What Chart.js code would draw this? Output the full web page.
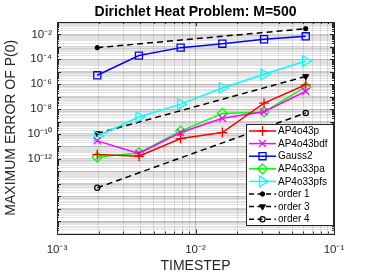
<!DOCTYPE html>
<html>
<head>
<meta charset="utf-8">
<script src="https://cdn.jsdelivr.net/npm/chart.js@4.4.0/dist/chart.umd.min.js"></script>
<style>
html,body{margin:0;padding:0;background:#fff;}
#wrap{width:371px;height:278px;}
</style>
</head>
<body>
<div id="wrap"><canvas id="c" width="371" height="278"></canvas></div>
<script>
// ---- data ----
const timesteps = [0.001953125, 0.00390625, 0.0078125, 0.015625, 0.03125, 0.0625];
const ap4o43p   = [2.2e-12, 1.6e-12, 4.3e-11, 1.3e-10, 3.0e-8, 9.0e-7];
const ap4o43bdf = [2.8e-11, 2.7e-12, 1.3e-10, 1.8e-9, 6.0e-9, 2.7e-7];
const gauss2    = [5.2e-6, 2.0e-4, 8.7e-4, 1.8e-3, 4.1e-3, 7.1e-3];
const ap4o33pa  = [1.4e-12, 3.0e-12, 1.7e-10, 4.5e-9, 5.9e-9, 6.0e-7];
const ap4o33pfs = [6.6e-11, 2.3e-9, 2.5e-8, 5.0e-7, 6.3e-6, 7.4e-5];
const refSteps  = [0.001953125, 0.0625];
const order1    = [8.7e-4, 2.9e-2];
const order3    = [1.1e-10, 4.2e-6];
const order4    = [4.7e-15, 4.9e-9];
const seriesNames = ['AP4o43p','AP4o43bdf','Gauss2','AP4o33pa','AP4o33pfs','order 1','order 3','order 4'];
const xTickExps = [-3, -2, -1];
const yTickExps = [-2, -4, -6, -8, -10, -12];
const titleText = 'Dirichlet Heat Problem: M=500';
const xTitle = 'TIMESTEP';
const yTitle = 'MAXIMUM ERROR OF P(0)';

const FONT = "'Liberation Sans', Arial, Helvetica, sans-serif";
const AXC = '#262626';

function pts(xs, ys){ return xs.map((x,i)=>({x:x, y:ys[i]})); }
const SUP = {'-':'\u207B','0':'\u2070','1':'\u00B9','2':'\u00B2','3':'\u00B3','4':'\u2074','5':'\u2075','6':'\u2076','7':'\u2077','8':'\u2078','9':'\u2079'};
function sup(n){ return String(n).split('').map(c=>SUP[c]).join(''); }
function isDecade(v){ const l=Math.log10(v); return Math.abs(l-Math.round(l))<1e-9; }
function logTicks(lo, hi){ const t=[]; for(let d=lo; d<hi; d++){ for(let m=1;m<=9;m++) t.push(Number(m+'e'+d)); } t.push(Number('1e'+hi)); return t; }

const NONE = 'rgba(0,0,0,0)';
function ds(label, data, color, style, opt){
  return Object.assign({
    label: label, data: data, borderColor: color, backgroundColor: color,
    pointBorderColor: color, pointBackgroundColor: NONE,
    pointStyle: style, pointRadius: 4.5, pointHoverRadius: 4.5, pointBorderWidth: 1.3,
    borderWidth: 1.5, tension: 0, fill: false
  }, opt||{});
}

const datasets = [
  ds(seriesNames[0], pts(timesteps, ap4o43p), '#ff0000', 'cross', {pointRadius:5}),
  ds(seriesNames[1], pts(timesteps, ap4o43bdf), '#ff00ff', 'crossRot', {pointRadius:5}),
  ds(seriesNames[2], pts(timesteps, gauss2), '#0000ff', 'rect', {pointRadius:5}),
  ds(seriesNames[3], pts(timesteps, ap4o33pa), '#00ff00', 'rectRot', {pointRadius:5}),
  ds(seriesNames[4], pts(timesteps, ap4o33pfs), '#00ffff', 'triangle', {pointRadius:6, pointRotation:90}),
  ds(seriesNames[5], pts(refSteps, order1), '#000000', 'circle', {borderDash:[6,4], pointRadius:2.2, pointBackgroundColor:'#000', pointBorderWidth:1}),
  ds(seriesNames[6], pts(refSteps, order3), '#000000', 'triangle', {borderDash:[6,4], pointRadius:3.5, pointRotation:180, pointBackgroundColor:'#000', pointBorderWidth:1}),
  ds(seriesNames[7], pts(refSteps, order4), '#000000', 'circle', {borderDash:[6,4], pointRadius:2.6, pointBorderWidth:1.2})
];

const boxPlugin = {
  id: 'box',
  afterDatasetsDraw(chart){
    const {ctx, chartArea:a, scales} = chart;
    ctx.save();
    ctx.strokeStyle = AXC; ctx.lineWidth = 1;
    ctx.beginPath();
    scales.x.ticks.forEach(t=>{
      const px = Math.round(scales.x.getPixelForValue(t.value))+0.5;
      const L = isDecade(t.value)?4:2;
      ctx.moveTo(px, a.bottom); ctx.lineTo(px, a.bottom-L);
      ctx.moveTo(px, a.top); ctx.lineTo(px, a.top+L);
    });
    scales.y.ticks.forEach(t=>{
      const py = Math.round(scales.y.getPixelForValue(t.value))+0.5;
      const L = isDecade(t.value)?4:2;
      ctx.moveTo(a.left, py); ctx.lineTo(a.left+L, py);
      ctx.moveTo(a.right, py); ctx.lineTo(a.right-L, py);
    });
    ctx.stroke();
    ctx.strokeRect(Math.round(a.left)+0.5, Math.round(a.top)+0.5, Math.round(a.right-a.left), Math.round(a.bottom-a.top));
    ctx.restore();
  },
  afterDraw(chart){
    const ctx = chart.ctx;
    const bx=246, by=124, bw=87, bh=101;
    ctx.save();
    ctx.fillStyle='#fff'; ctx.fillRect(bx,by,bw,bh);
    ctx.strokeStyle=AXC; ctx.lineWidth=1; ctx.strokeRect(bx+0.5,by+0.5,bw,bh);
    chart.data.datasets.forEach((d,i)=>{
      const y = by + 7 + i*12.6;
      ctx.save();
      ctx.strokeStyle = d.borderColor; ctx.lineWidth = d.borderWidth;
      ctx.setLineDash(d.borderDash ? [5,3.5] : []);
      ctx.beginPath(); ctx.moveTo(249,y); ctx.lineTo(276,y); ctx.stroke();
      ctx.setLineDash([]);
      ctx.fillStyle = d.pointBackgroundColor; ctx.strokeStyle = d.borderColor; ctx.lineWidth = d.pointBorderWidth;
      Chart.helpers.drawPoint(ctx, {pointStyle:d.pointStyle, rotation:d.pointRotation||0, radius:d.pointRadius, borderWidth:d.pointBorderWidth}, 262.5, y);
      ctx.restore();
      ctx.fillStyle = '#000'; ctx.font = "10px "+FONT; ctx.textBaseline='middle'; ctx.textAlign='left';
      ctx.fillText(d.label, 278, y+0.5);
    });
    ctx.restore();
  }
};

const gridColor = c => (c.tick && isDecade(c.tick.value)) ? 'rgba(38,38,38,0.22)' : 'rgba(38,38,38,0.13)';

new Chart(document.getElementById('c'), {
  type: 'line',
  data: { datasets: datasets },
  options: {
    responsive: false, devicePixelRatio: 1, animation: false,
    layout: { padding: { left: 0, right: 37, top: 0, bottom: 0 } },
    plugins: {
      legend: { display: false },
      tooltip: { enabled: false },
      title: { display: true, text: titleText, fullSize: false, color: '#000',
               font: { family: FONT, size: 14, weight: 'bold' }, padding: { top: 4, bottom: 1.2 } }
    },
    scales: {
      x: {
        type: 'logarithmic', min: 1e-3, max: 1e-1,
        afterBuildTicks: s => { s.ticks = logTicks(-3, -1).map(v=>({value:v})); },
        afterFit: s => { s.height = 44.5; },
        ticks: { autoSkip: false, maxRotation: 0, padding: 9, color: AXC,
                 font: { family: FONT, size: 11.5 },
                 callback: (v)=> { if(!isDecade(v)) return ''; const e=Math.round(Math.log10(v)); return xTickExps.includes(e) ? '10'+sup(e) : ''; } },
        grid: { drawTicks: false, lineWidth: 1, color: gridColor },
        border: { display: false },
        title: { display: true, text: xTitle, color: AXC, font: { family: FONT, size: 14 }, padding: { top: 0, bottom: 3 } }
      },
      y: {
        type: 'logarithmic', min: 1e-18, max: 1e-1,
        afterBuildTicks: s => { s.ticks = logTicks(-18, -1).map(v=>({value:v})); },
        afterFit: s => { s.width = 57; },
        ticks: { autoSkip: false, padding: 5, color: AXC,
                 font: { family: FONT, size: 11.5 },
                 callback: (v)=> { if(!isDecade(v)) return ''; const e=Math.round(Math.log10(v)); return yTickExps.includes(e) ? '10'+sup(e) : ''; } },
        grid: { drawTicks: false, lineWidth: 1, color: gridColor },
        border: { display: false },
        title: { display: true, text: yTitle, color: AXC, font: { family: FONT, size: 14 }, padding: { top: 2.5, bottom: 0 } }
      }
    }
  },
  plugins: [boxPlugin]
});
</script>
</body>
</html>
